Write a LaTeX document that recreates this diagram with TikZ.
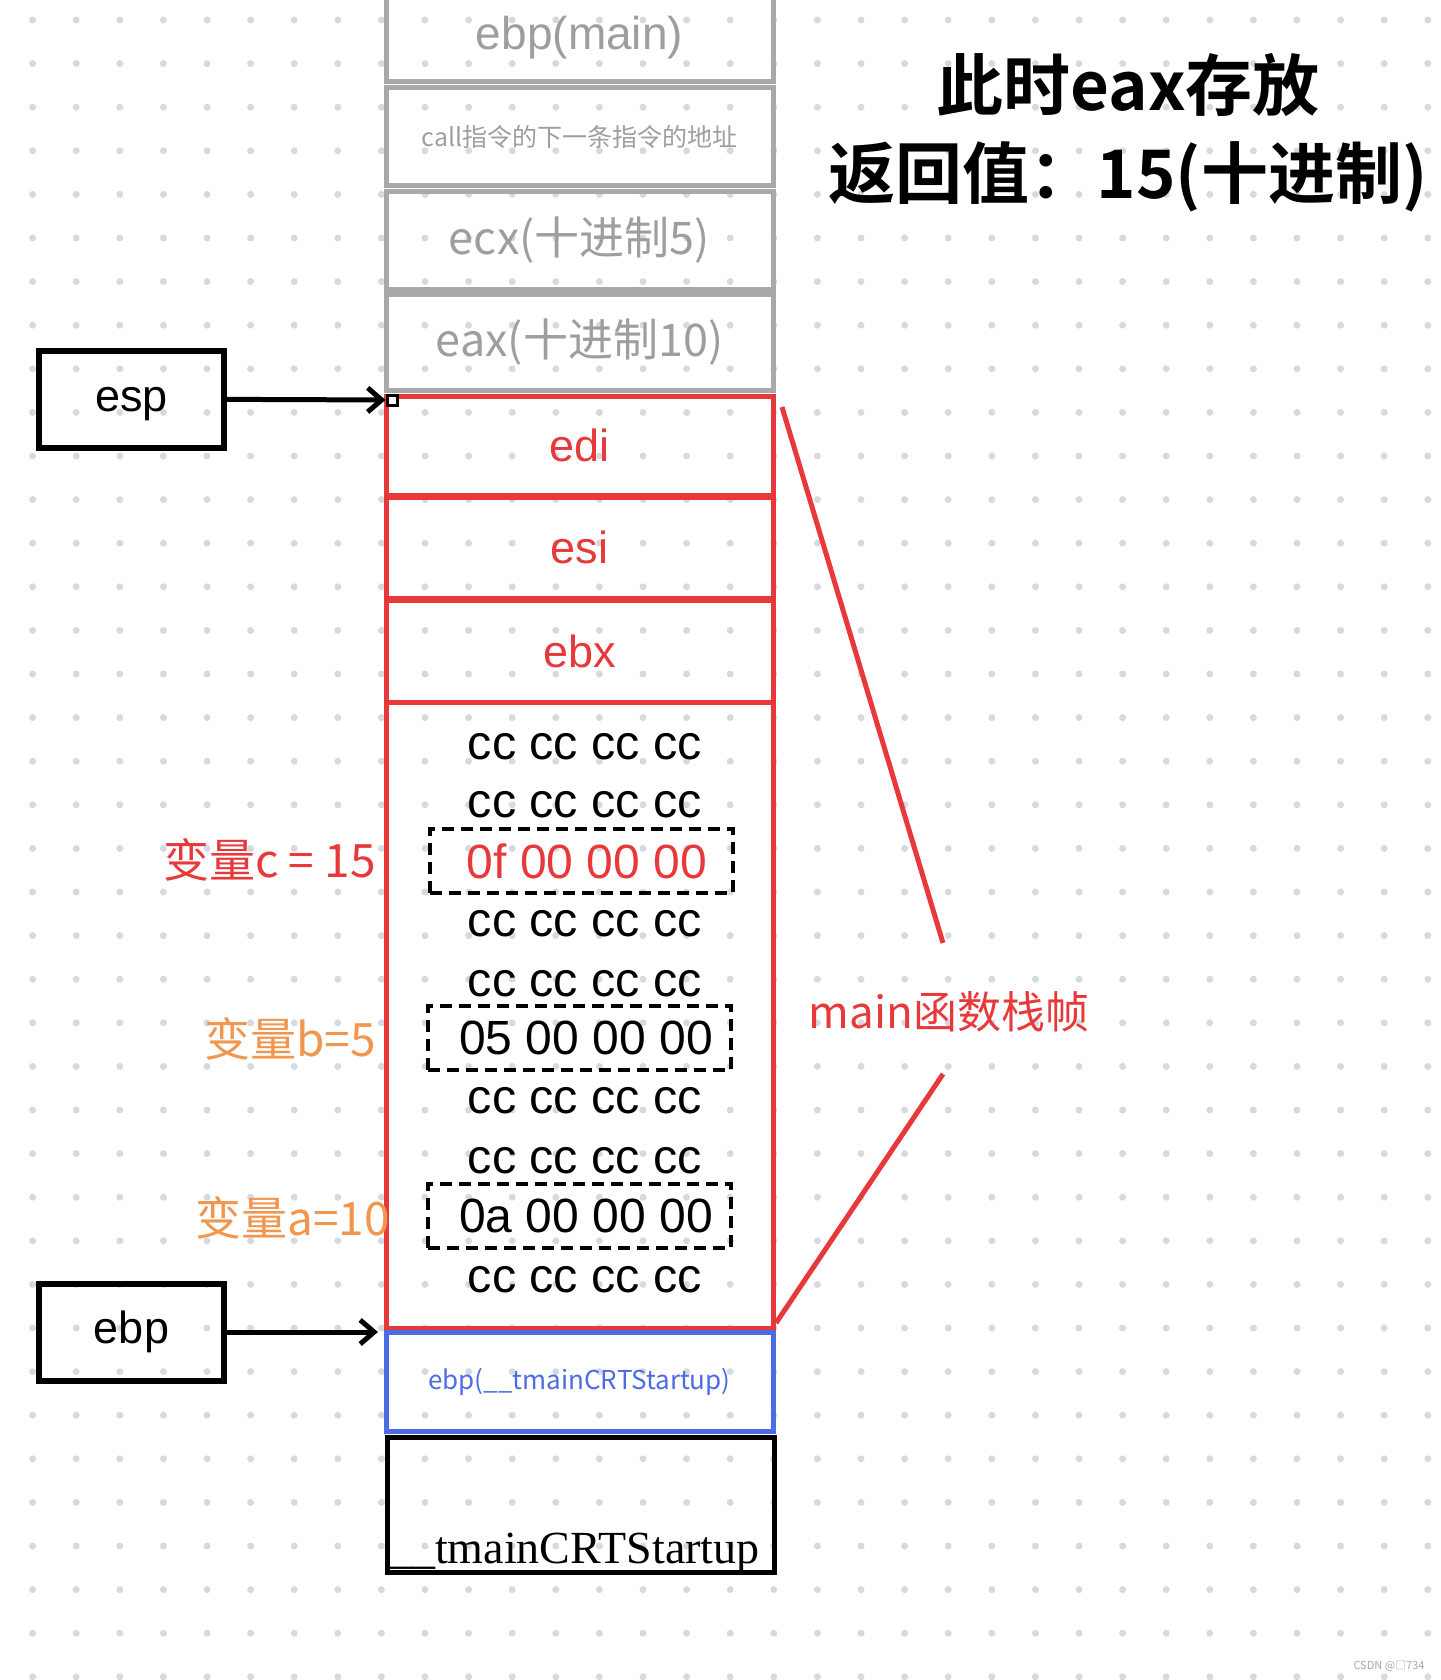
\documentclass[tikz,border=0pt]{standalone}
\usepackage{fontspec}
\setmainfont{Noto Sans CJK SC}[BoldFont={Noto Sans CJK SC Bold}]
\newfontfamily\serifpart{Liberation Serif}
\newfontfamily\latinpart{Liberation Sans}
\usetikzlibrary{arrows.meta, positioning}
\definecolor{stackred}{HTML}{E8393A}
\definecolor{varorange}{HTML}{F0964E}
\definecolor{cellgray}{HTML}{A9A9A9}
\definecolor{textgray}{HTML}{9E9E9E}
\definecolor{ebpblue}{HTML}{4D6BE6}
\definecolor{gridc}{HTML}{D5DAE1}

\begin{document}
\begin{tikzpicture}[
    x=1pt, y=-1pt, every node/.style={align=center},
    cell/.style={draw, line width=5pt, minimum width=387pt, inner sep=0pt},
    oldcell/.style={cell, draw=cellgray, text=textgray, font=\fontsize{45}{50}\selectfont},
    regcell/.style={cell, draw=stackred, text=stackred, font=\latinpart\fontsize{45}{50}\selectfont},
    ccrow/.style={inner sep=0pt, font=\latinpart\fontsize{48.5}{50}\selectfont},
    hexbox/.style={draw, line width=4pt, dash pattern=on 12pt off 7pt, minimum width=303pt, minimum height=64pt, inner sep=0pt, font=\latinpart\fontsize{48}{50}\selectfont},
    varlabel/.style={anchor=east, inner sep=0pt, font=\fontsize{46}{50}\selectfont},
    ptrbox/.style={draw, line width=6pt, minimum width=185pt, minimum height=97pt, inner sep=0pt, font=\latinpart\fontsize{45}{50}\selectfont},
    ptrarrow/.style={line width=5pt, -{Straight Barb[length=14pt, width=24pt]}},
    frameline/.style={draw=stackred, line width=5pt}
]
\useasboundingbox (0,0) rectangle (1440,1680);
% dotted paper
\foreach \i in {0,...,32}
  \foreach \j in {0,...,38}
    \fill[gridc] (32.6+43.6*\i, 20+43.6*\j) circle (3.5pt);

% Stack cells
\node[oldcell, minimum height=88pt, font=\latinpart\fontsize{46}{50}\selectfont] (ebp_main) at (579.5,38) {ebp(main)};
\node[oldcell, minimum height=98pt, font=\fontsize{25}{30}\selectfont] (ret_addr) at (579.5,137) {call指令的下一条指令的地址};
\node[oldcell, minimum height=97pt] (saved_ecx) at (579.5,240.5) {ecx(十进制5)};
\node[oldcell, minimum height=96pt] (saved_eax) at (579.5,342) {eax(十进制10)};
\node[regcell, minimum height=99pt] (saved_edi) at (579.5,445.5) {edi};
\node[regcell, minimum height=101pt] (saved_esi) at (579.5,547.5) {esi};
\node[regcell, minimum height=102pt] (saved_ebx) at (579.5,651) {ebx};
\node[regcell, minimum height=626pt] (locals) at (579.5,1015) {};
\node[cell, draw=ebpblue, text=ebpblue, minimum height=99pt, font=\fontsize{26}{30}\selectfont] (ebp_caller) at (579.5,1381.5) {ebp(\_\_tmainCRTStartup)};
\node[cell, minimum height=135pt] (caller_frame) at (580.5,1504.5) {};
\node[anchor=base west, inner sep=0pt, font=\serifpart\fontsize{46}{50}\selectfont] (caller_name) at (389,1563) {\_\_tmainCRTStartup};

% Locals of main
\node[ccrow] (row_1) at (585,747) {cc cc cc cc};
\node[ccrow] (row_2) at (585,805) {cc cc cc cc};
\node[hexbox, text=stackred] (var_c) at (581,861) {\kern12pt 0f 00 00 00};
\node[ccrow] (row_3) at (585,924) {cc cc cc cc};
\node[ccrow] (row_4) at (585,984) {cc cc cc cc};
\node[hexbox] (var_b) at (579,1038) {\kern14pt 05 00 00 00};
\node[ccrow] (row_5) at (585,1101) {cc cc cc cc};
\node[ccrow] (row_6) at (585,1161) {cc cc cc cc};
\node[hexbox] (var_a) at (579,1216) {\kern14pt 0a 00 00 00};
\node[ccrow] (row_7) at (585,1280) {cc cc cc cc};

\node[varlabel, text=stackred] (label_c) at (376,860) {变量c = 15};
\node[varlabel, text=varorange] (label_b) at (376,1039) {变量b=5};
\node[varlabel, text=varorange] (label_a) at (390,1218) {变量a=10};

% Registers
\node[ptrbox, text depth=0pt] (esp) at (131.5,399) {esp};
\node[ptrbox] (ebp) at (131.5,1332) {ebp};
\node[draw, fill=white, line width=3pt, minimum size=10pt, inner sep=0pt] (esp_target) at (392,400) {};
\coordinate (ebp_target) at (378,1332);
\draw[ptrarrow] (esp) -- (esp_target);
\draw[ptrarrow] (ebp) -- (ebp_target);

% main frame marker
\coordinate (frame_top) at (782,407);
\coordinate (frame_mid_a) at (943,943);
\coordinate (frame_mid_b) at (943,1074);
\coordinate (frame_bottom) at (776,1323);
\draw[frameline] (frame_top) -- (frame_mid_a);
\draw[frameline] (frame_mid_b) -- (frame_bottom);
\node[text=stackred, font=\fontsize{44}{50}\selectfont] (frame_label) at (949,1012) {main函数栈帧};

\node[font=\bfseries\fontsize{67}{88}\selectfont] (title) at (1128,133) {此时eax存放\\返回值：15(十进制)};
\node[anchor=east, text=gray!70, font=\fontsize{11}{12}\selectfont] (watermark) at (1428,1666) {CSDN @□734};
\end{tikzpicture}
\end{document}
